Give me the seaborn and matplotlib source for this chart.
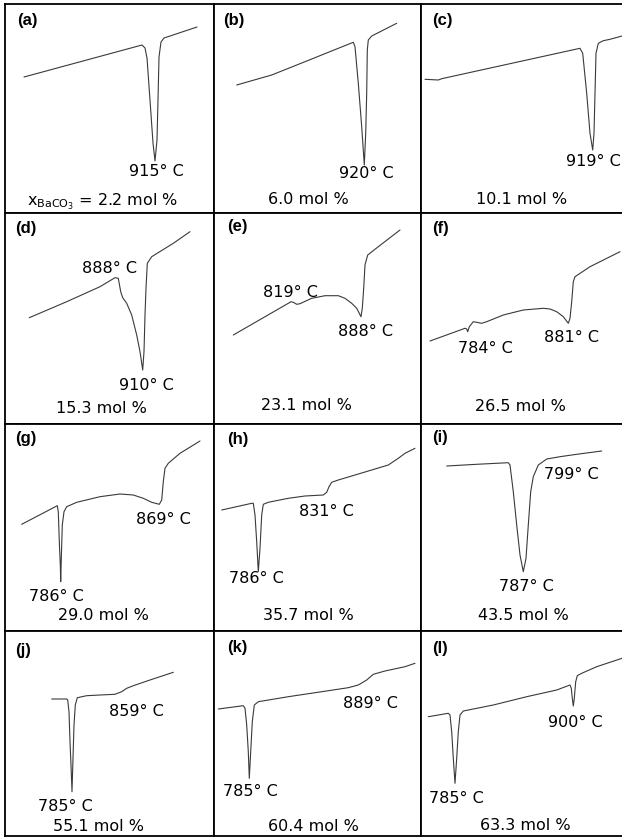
import matplotlib
matplotlib.use("Agg")
import matplotlib.pyplot as plt
import pandas as pd
import seaborn as sns

# DTA heating traces for the BaCO3 series: position along the temperature
# axis and downward deflection of the differential signal (arbitrary units).
a_t = [19, 137, 140, 142, 145, 148, 150, 152, 153, 154, 156, 159, 192]
a_dt = [73, 41, 44, 54, 96, 139, 157, 136, 96, 53, 38, 34, 23]

b_t = [22.7, 57.7, 91, 124.3, 139.3, 141, 144.3, 147.7, 150.3, 151.7, 152.7, 153.3, 154.3, 157.7, 182.7]
b_dt = [81, 71, 57.7, 44.3, 38.3, 42.7, 79.3, 122.7, 161, 129.3, 89.3, 46, 36, 32, 19.3]

c_t = [4, 17.3, 20.7, 159, 161.7, 165.7, 169, 171.7, 173, 174, 175, 177.3, 182.3, 189, 201]
c_dt = [75.3, 76, 74.7, 44.3, 49.3, 89.3, 129.3, 146, 129.3, 89.3, 49.3, 39.3, 36.7, 35.3, 32]

d_t = [24.3, 61.7, 95, 110, 113.3, 115.7, 117.7, 121.7, 126.7, 131.7, 135, 137.7, 139, 140, 141, 142.3, 146.7, 168.3, 185]
d_dt = [104.7, 88.7, 73.7, 64.7, 65.3, 78.7, 84.7, 90.3, 102, 122, 138.7, 157, 138.7, 102, 75.3, 50.3, 43.7, 30.3, 18.7]

e_t = [19.3, 74.3, 77, 79.3, 82.7, 86, 97.7, 111, 124.3, 131, 137.7, 142.7, 147, 148.3, 149.7, 151, 153.7, 164.3, 186]
e_dt = [122, 90.3, 88.7, 89.3, 91.3, 90.7, 85.3, 82.7, 82.7, 85.3, 90.3, 95.3, 103.7, 95.3, 75.3, 52, 42, 33.7, 17]

f_t = [9, 44, 45.7, 46.7, 48.3, 52.3, 55.7, 60.7, 65.7, 82.3, 102.3, 122.3, 129, 135.7, 142.3, 147.3,
       149, 150.7, 152.3, 154, 169, 199]
f_dt = [128, 115.3, 116, 118.7, 113.7, 108.7, 109.3, 110.3, 108.7, 102, 97, 95.3, 96, 98.7, 103.7, 110.3,
        105.3, 88.7, 68.7, 63.7, 53.7, 38.7]

g_t = [16.7, 52.3, 53.3, 54.3, 55.3, 55.7, 56.3, 57.3, 59, 61.7, 71.7, 95, 115, 128.3, 138.3, 146.7,
       154.3, 156.7, 158.3, 160, 163.3, 175, 195]
g_dt = [100.3, 81.7, 87.7, 117.7, 141, 157.7, 134.3, 101, 87.7, 82.7, 78.3, 72.7, 70, 71, 74.3, 78.3,
        80.3, 76, 57.7, 44.3, 39.3, 29.3, 17]

h_t = [7.7, 37.7, 39.3, 41, 42.7, 44.3, 46, 47.7, 49.3, 54.3, 74.3, 91, 109.3, 112.7, 115, 117.7,
       124.3, 141, 157.7, 174.3, 184.3, 191, 201]
h_dt = [86, 79.3, 79.3, 91, 117.7, 147.7, 124.3, 91, 80.3, 78.3, 74.3, 72, 71, 68.3, 62.7, 58.3,
        56, 51, 46, 41, 34.3, 29.3, 24.3]

i_t = [25.7, 55.7, 87.3, 89, 92.3, 95.7, 99, 102.3, 105, 107.3, 109.7, 112.3, 117.3, 125.7, 139, 155.7, 180.7]
i_dt = [42, 40.3, 38.7, 41, 67.7, 101, 131, 147.7, 134.3, 101, 67.7, 52.7, 41, 35, 32.7, 30.3, 27]

j_t = [46.7, 61.7, 62.7, 64, 65, 66, 67, 68, 69, 70.3, 72.3, 81.7, 95, 110, 116.7, 121.7, 128.3, 145, 168.3]
j_dt = [68, 68, 69, 80.7, 110.7, 134, 160.7, 127.3, 94, 74, 66.7, 64.7, 64, 63.3, 60.7, 57.3, 54.7, 49, 41.3]

k_t = [4.3, 29.3, 31, 32.7, 34.3, 35.3, 36.7, 38.3, 40.3, 44.3, 74.3, 107.7, 134.3, 144.3, 152.7,
       159.3, 171, 191, 201]
k_dt = [78, 74.7, 77.3, 94, 120.7, 147.3, 120.7, 90.7, 74, 70.7, 65.7, 60.7, 56.7, 54, 49,
        43.3, 40, 35.7, 32.3]

l_t = [7.3, 27.3, 29, 30.7, 32.3, 34, 35.7, 37.3, 39, 42.3, 72.3, 105.7, 135.7, 149, 150.3, 151.3,
       152.3, 153.3, 154.7, 156.3, 160.7, 175.7, 201]
l_dt = [85.7, 82.3, 84, 100.7, 127.3, 152.3, 127.3, 100.7, 84, 80, 74, 65.7, 59, 54, 57.3, 67.3,
        75, 67.3, 50.7, 44.7, 42.3, 35.7, 27.3]

panel_tags = ["(a)", "(b)", "(c)", "(d)", "(e)", "(f)",
              "(g)", "(h)", "(i)", "(j)", "(k)", "(l)"]
compositions = [r"$\mathregular{x_{BaCO_3}}$ = 2.2 mol %", "6.0 mol %", "10.1 mol %",
                "15.3 mol %", "23.1 mol %", "26.5 mol %",
                "29.0 mol %", "35.7 mol %", "43.5 mol %",
                "55.1 mol %", "60.4 mol %", "63.3 mol %"]
peak_temps = [["915° C"], ["920° C"], ["919° C"],
              ["888° C", "910° C"], ["819° C", "888° C"], ["784° C", "881° C"],
              ["786° C", "869° C"], ["786° C", "831° C"], ["787° C", "799° C"],
              ["785° C", "859° C"], ["785° C", "889° C"], ["785° C", "900° C"]]

traces = [(a_t, a_dt), (b_t, b_dt), (c_t, c_dt), (d_t, d_dt), (e_t, e_dt), (f_t, f_dt),
          (g_t, g_dt), (h_t, h_dt), (i_t, i_dt), (j_t, j_dt), (k_t, k_dt), (l_t, l_dt)]

# ---- layout (pixels) ----
W, H = 622, 839
col_edges = [5, 214, 421, 622]
row_edges = [4, 213, 424, 631, 836]
tag_pos = [(12, 17), (9, 16), (10.7, 16), (10, 15), (12.7, 13.7), (10.7, 15),
           (10, 15), (12.7, 16), (10.7, 14), (10, 20), (12.7, 16.5), (10.7, 17)]
comp_pos = [(98, 198), (94.3, 196), (100.7, 195.3), (96.7, 195.3), (92.7, 192), (99, 193.7),
            (98.3, 191), (94.3, 191), (102.3, 192), (93.3, 195.7), (99.3, 195.7), (104, 195)]
peak_pos = [[(151, 168)], [(152.7, 169.3)], [(172.3, 157.7)],
            [(105, 55.3), (141.7, 172)], [(76, 79.3), (151, 118)], [(64, 135.3), (150.7, 124.7)],
            [(51.7, 172.7), (158.3, 95)], [(42.7, 154.3), (112.7, 87.7)], [(105.7, 162.7), (150.7, 51)],
            [(60, 175.7), (131.7, 80)], [(36, 160.7), (156, 72.3)], [(35.7, 167.3), (154, 91.3)]]

sns.set_theme(style="white")
plt.rcParams["font.family"] = ["DejaVu Sans"]
plt.rcParams["mathtext.fontset"] = "dejavusans"

fig = plt.figure(figsize=(W / 100, H / 100), dpi=100)
fig.patch.set_facecolor("white")

for idx, (t, dt) in enumerate(traces):
    r, c = divmod(idx, 3)
    x0, x1 = col_edges[c], col_edges[c + 1]
    y0, y1 = row_edges[r], row_edges[r + 1]
    ax = fig.add_axes([x0 / W, 1 - y1 / H, (x1 - x0) / W, (y1 - y0) / H])
    df = pd.DataFrame({"T": t, "dT": dt})
    sns.lineplot(data=df, x="T", y="dT", sort=False, estimator=None,
                 color="#3a3a3a", linewidth=0.8, ax=ax)
    ax.set_xlim(0, x1 - x0)
    ax.set_ylim(y1 - y0, 0)
    ax.set_xticks([])
    ax.set_yticks([])
    ax.set_xlabel("")
    ax.set_ylabel("")
    ax.set_facecolor("white")
    for side, sp in ax.spines.items():
        sp.set_color("black")
        sp.set_linewidth(1.3)
    if c == 2:
        ax.spines["right"].set_visible(False)

    tx, ty = tag_pos[idx]
    ax.text(tx, ty, panel_tags[idx], ha="left", va="center", family="Liberation Sans",
            fontsize=12, fontweight="bold", color="black")
    cx, cy = comp_pos[idx]
    ax.text(cx, cy, compositions[idx], ha="center", va="center",
            fontsize=11.5, color="black")
    for lab, (px, py) in zip(peak_temps[idx], peak_pos[idx]):
        ax.text(px, py, lab, ha="center", va="center", fontsize=11.5, color="black")

fig.savefig("out.png", dpi=100, facecolor="white")
